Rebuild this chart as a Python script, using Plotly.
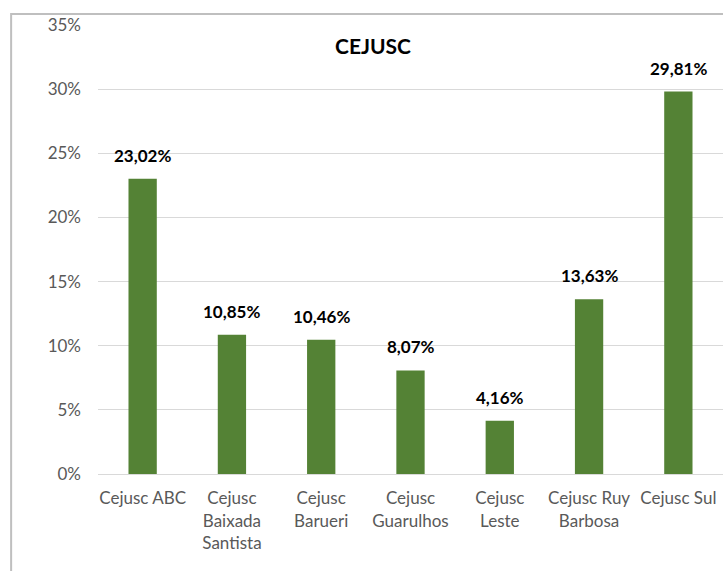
import plotly.graph_objects as go

categories = ["Cejusc ABC", "Cejusc<br>Baixada<br>Santista", "Cejusc<br>Barueri",
              "Cejusc<br>Guarulhos", "Cejusc<br>Leste", "Cejusc Ruy<br>Barbosa", "Cejusc Sul"]
values = [23.02, 10.85, 10.46, 8.07, 4.16, 13.63, 29.81]
tick_vals = [0, 5, 10, 15, 20, 25, 30, 35]
tick_text = ["0%", "5%", "10%", "15%", "20%", "25%", "30%", "35%"]

labels = [f"{v:.2f}%".replace(".", ",") for v in values]
FONT = "Lato"

fig = go.Figure()
fig.add_trace(go.Bar(x=categories, y=values, marker=dict(color="#548235", line=dict(width=0)),
                     hoverinfo="skip"))

for c, v, t in zip(categories, values, labels):
    fig.add_annotation(x=c, y=v, xref="x", yref="y", text=f"<b>{t}</b>", showarrow=False,
                       yanchor="bottom", yshift=11, font=dict(family=FONT, size=17, color="#000000"))

fig.add_shape(type="rect", xref="paper", yref="paper", x0=-0.139, x1=1.05, y0=-0.4, y1=1.0245,
              line=dict(color="#bfbfbf", width=2), fillcolor="rgba(0,0,0,0)", layer="below")

fig.update_layout(
    width=723, height=571,
    margin=dict(l=98, r=0, t=25, b=97),
    paper_bgcolor="white", plot_bgcolor="white",
    bargap=0.683,
    showlegend=False,
    title=dict(text="<b>CEJUSC</b>", x=373/723, xanchor="center", y=1-47/571, yanchor="middle",
               font=dict(family=FONT, size=21, color="#000000")),
    font=dict(family=FONT, size=17, color="#595959"),
)
fig.update_yaxes(range=[0, 35], tickvals=tick_vals, ticktext=tick_text, showgrid=True,
                 gridcolor="#d9d9d9", gridwidth=1, zeroline=False, showline=False,
                 ticks="", ticklabelstandoff=16, tickfont=dict(family=FONT, size=17, color="#595959"))
fig.update_xaxes(showline=True, linecolor="#d9d9d9", linewidth=1, ticks="", ticklabelstandoff=9,
                 tickfont=dict(family=FONT, size=17, color="#595959"))

fig.write_html("out.html", config={"displayModeBar": False},
               post_script="document.body.style.margin='0';document.body.style.overflow='hidden';")
